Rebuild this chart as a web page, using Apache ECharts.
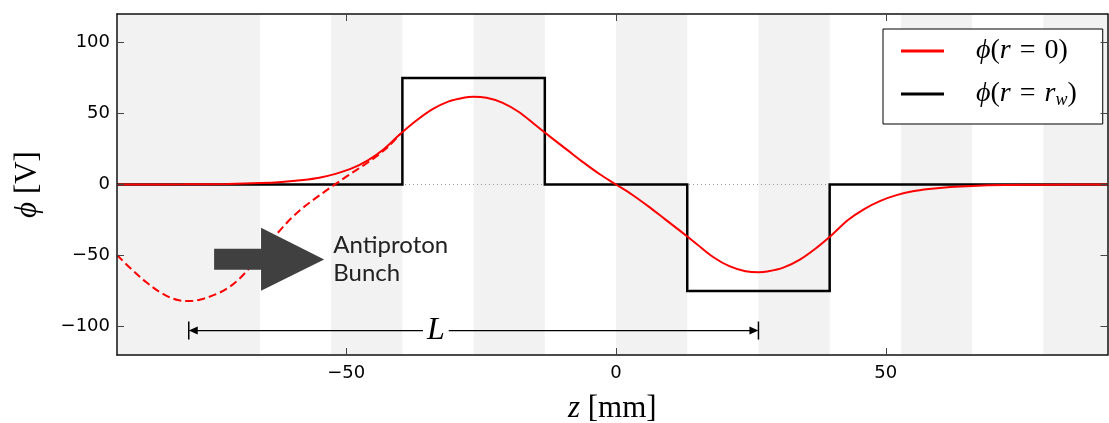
<!DOCTYPE html>
<html>
<head>
<meta charset="utf-8">
<script src="https://cdn.jsdelivr.net/npm/echarts@6/dist/echarts.min.js"></script>
<style>html,body{margin:0;padding:0;background:#fff;overflow:hidden}#c{width:1109px;height:423px}</style>
</head>
<body>
<div id="c"></div>
<script>
// ---- data ----
const xTicks = [-50, 0, 50];
const yTicks = [-100, -50, 0, 50, 100];
const electrodeEdges = [-92.5, -66, -52.8, -39.6, -26.4, -13.2, 0, 13.2, 26.4, 39.6, 52.8, 66, 79.2, 91.1];
const wallZ   = [-92.5, -39.6, -39.6, -13.2, -13.2, 13.2, 13.2, 39.6, 39.6, 91.1];
const wallPhi = [0, 0, 75, 75, 0, 0, -75, -75, 0, 0];
const axisZ   = [-92.5, -80, -72, -66, -62, -58, -55, -52, -49, -46, -43, -40, -37, -34, -31, -28, -26.5, -24, -21, -18, -15, -12, -9, -6, -3, 0, 3, 6, 9, 12, 15, 18, 21, 24, 26.5, 28, 31, 34, 37, 40, 43, 46, 49, 52, 55, 58, 62, 66, 72, 80, 91.1];
const axisPhi = [0, 0.1, 0.4, 1.0, 1.8, 3.2, 4.8, 7.5, 11.3, 17, 25, 35.5, 45, 53, 58.5, 61.3, 61.8, 61, 57.5, 51, 42, 33, 24.2, 15.4, 7.2, 0, -7.2, -15.4, -24.2, -33, -42, -51, -57.5, -61, -61.8, -61.3, -58.5, -53, -45, -35.5, -25, -17.3, -11.5, -7.5, -4.8, -3.2, -1.8, -1.0, -0.4, -0.1, 0];
const bunchZ   = [-92.5, -90, -87, -84, -81, -79, -77, -74, -72, -70, -68, -66, -64, -62, -60, -58, -56, -54, -52, -50, -48, -46, -44, -42, -40];
const bunchPhi = [-49.6, -59, -69, -77, -81.5, -82, -81, -77, -73, -67, -59, -49.5, -40, -31, -23, -16.3, -10.5, -5, 0.3, 5.5, 10.5, 15.5, 21, 27.5, 35.5];
const lengthL = [-79.2, 26.4];   // span of the L dimension (mm)
const lengthY = -102.8;          // height of the L dimension (V)

const zip = (a, b) => a.map((v, i) => [v, b[i]]);
const bands = [];
for (let i = 0; i < electrodeEdges.length - 1; i += 2) {
  bands.push([{ xAxis: electrodeEdges[i] }, { xAxis: electrodeEdges[i + 1] }]);
}
const XMIN = -92.5, XMAX = 91.1;
const minus = v => String(v).replace('-', '\u2212');
const tickStyle = { show: true, inside: true, length: 7, lineStyle: { color: '#444', width: 1 } };
const frame = { show: true, onZero: false, lineStyle: { color: '#111', width: 1.5 } };
const MATH = 'Liberation Serif';

const chart = echarts.init(document.getElementById('c'), null, { renderer: 'canvas' });
const option = {
  animation: false,
  backgroundColor: '#fff',
  grid: { left: 117, right: 1.5, top: 14, bottom: 68, containLabel: false, outerBoundsMode: 'none' },
  xAxis: [
    { type: 'value', min: XMIN, max: XMAX, position: 'bottom', z: 10,
      axisLine: frame, splitLine: { show: false },
      axisTick: Object.assign({ customValues: xTicks }, tickStyle),
      axisLabel: { customValues: xTicks, formatter: minus, color: '#000', fontSize: 18, fontFamily: 'DejaVu Sans', margin: 9 },
      name: '{i|z}{n| [mm]}', nameLocation: 'middle', nameGap: 38,
      nameTextStyle: { rich: {
        i: { fontFamily: MATH, fontStyle: 'italic', fontSize: 31, color: '#000' },
        n: { fontFamily: MATH, fontSize: 31, color: '#000' } } } },
    { type: 'value', min: XMIN, max: XMAX, position: 'top', z: 10,
      axisLine: frame, splitLine: { show: false },
      axisTick: Object.assign({ customValues: xTicks }, tickStyle),
      axisLabel: { show: false } }
  ],
  yAxis: [
    { type: 'value', min: -120, max: 120, position: 'left', z: 10,
      axisLine: frame, splitLine: { show: false },
      axisTick: Object.assign({ customValues: yTicks }, tickStyle),
      axisLabel: { customValues: yTicks, formatter: minus, color: '#000', fontSize: 18, fontFamily: 'DejaVu Sans', margin: 7 },
      name: '{i|\u03D5}{n| [V]}', nameLocation: 'middle', nameGap: 74, nameRotate: 90,
      nameTextStyle: { rich: {
        i: { fontFamily: MATH, fontStyle: 'italic', fontSize: 31, color: '#000' },
        n: { fontFamily: MATH, fontSize: 31, color: '#000' } } } },
    { type: 'value', min: -120, max: 120, position: 'right', z: 10,
      axisLine: frame, splitLine: { show: false },
      axisTick: Object.assign({ customValues: yTicks }, tickStyle),
      axisLabel: { show: false } }
  ],
  legend: {
    data: ['phi0', 'phiw'], orient: 'vertical', left: 883, top: 29,
    padding: [8, 26, 15, 18], itemGap: 15, itemWidth: 43, itemHeight: 3, icon: 'rect',
    backgroundColor: '#fff', borderColor: '#000', borderWidth: 1, borderRadius: 0,
    selectedMode: false,
    formatter: n => n === 'phi0'
      ? '{i|\u03D5}{n|(}{i|r}{e|=}{n|0)}'
      : '{i|\u03D5}{n|(}{i|r}{e|=}{i|r}{s|w}{n|)}',
    textStyle: { padding: [0, 0, 0, 27], rich: {
      i: { fontFamily: MATH, fontStyle: 'italic', fontSize: 28, color: '#000', lineHeight: 30 },
      n: { fontFamily: MATH, fontSize: 28, color: '#000', lineHeight: 30 },
      e: { fontFamily: MATH, fontSize: 28, color: '#000', lineHeight: 30, padding: [0, 9, 0, 9] },
      s: { fontFamily: MATH, fontStyle: 'italic', fontSize: 18, color: '#000', lineHeight: 15, verticalAlign: 'bottom' } } }
  },
  series: [
    { name: 'zero', type: 'line', data: [[XMIN, 0], [XMAX, 0]], symbol: 'none', silent: true,
      lineStyle: { color: '#999', width: 1, type: [1, 3] }, z: 1,
      markArea: { silent: true, itemStyle: { color: '#f2f2f2' }, data: bands } },
    { name: 'phiw', type: 'line', data: zip(wallZ, wallPhi), symbol: 'none', color: '#000',
      lineStyle: { color: '#000', width: 2.5, join: 'miter' }, z: 2 },
    { name: 'phi0', type: 'line', data: zip(axisZ, axisPhi), symbol: 'none', smooth: 0.35, color: '#ff0000',
      lineStyle: { color: '#ff0000', width: 2 }, z: 3 },
    { name: 'phi0bunch', type: 'line', data: zip(bunchZ, bunchPhi), symbol: 'none', smooth: 0.35,
      lineStyle: { color: '#ff0000', width: 2, type: [8, 4] }, z: 3 }
  ]
};
chart.setOption(option);

// ---- annotations, positioned in data coordinates ----
const P = (z, v) => chart.convertToPixel({ gridIndex: 0 }, [z, v]);
const arrowPts = [[-74.5, -45.2], [-65.8, -45.2], [-65.8, -30.5], [-54.1, -52.7], [-65.8, -74.7], [-65.8, -60], [-74.5, -60]].map(p => P(p[0], p[1]));
const a = P(lengthL[0], lengthY), b = P(lengthL[1], lengthY);
const lbl = P(-33.4, lengthY);
const txt = P(-52.4, -52.3);
chart.setOption({
  graphic: [
    { type: 'polygon', shape: { points: arrowPts }, style: { fill: '#404040' }, z: 100 },
    { type: 'text', x: txt[0], y: txt[1], z: 100,
      style: { text: 'Antiproton\nBunch', font: '24px Lato', fill: '#222', lineHeight: 28, verticalAlign: 'middle', align: 'left' } },
    { type: 'line', shape: { x1: a[0] + 6, y1: a[1], x2: b[0] - 6, y2: b[1] }, style: { stroke: '#000', lineWidth: 1.3 }, z: 100 },
    { type: 'line', shape: { x1: a[0], y1: a[1] - 9, x2: a[0], y2: a[1] + 9 }, style: { stroke: '#000', lineWidth: 1.5 }, z: 100 },
    { type: 'line', shape: { x1: b[0], y1: b[1] - 9, x2: b[0], y2: b[1] + 9 }, style: { stroke: '#000', lineWidth: 1.5 }, z: 100 },
    { type: 'polygon', shape: { points: [[a[0], a[1]], [a[0] + 9, a[1] - 4], [a[0] + 9, a[1] + 4]] }, style: { fill: '#000' }, z: 100 },
    { type: 'polygon', shape: { points: [[b[0], b[1]], [b[0] - 9, b[1] - 4], [b[0] - 9, b[1] + 4]] }, style: { fill: '#000' }, z: 100 },
    { type: 'text', x: lbl[0], y: lbl[1], z: 101,
      style: { text: 'L', font: 'italic 32px "Liberation Serif"', fill: '#000', align: 'center', verticalAlign: 'middle',
               backgroundColor: '#fff', padding: [0, 4, 0, 4] } }
  ]
});
</script>
</body>
</html>
